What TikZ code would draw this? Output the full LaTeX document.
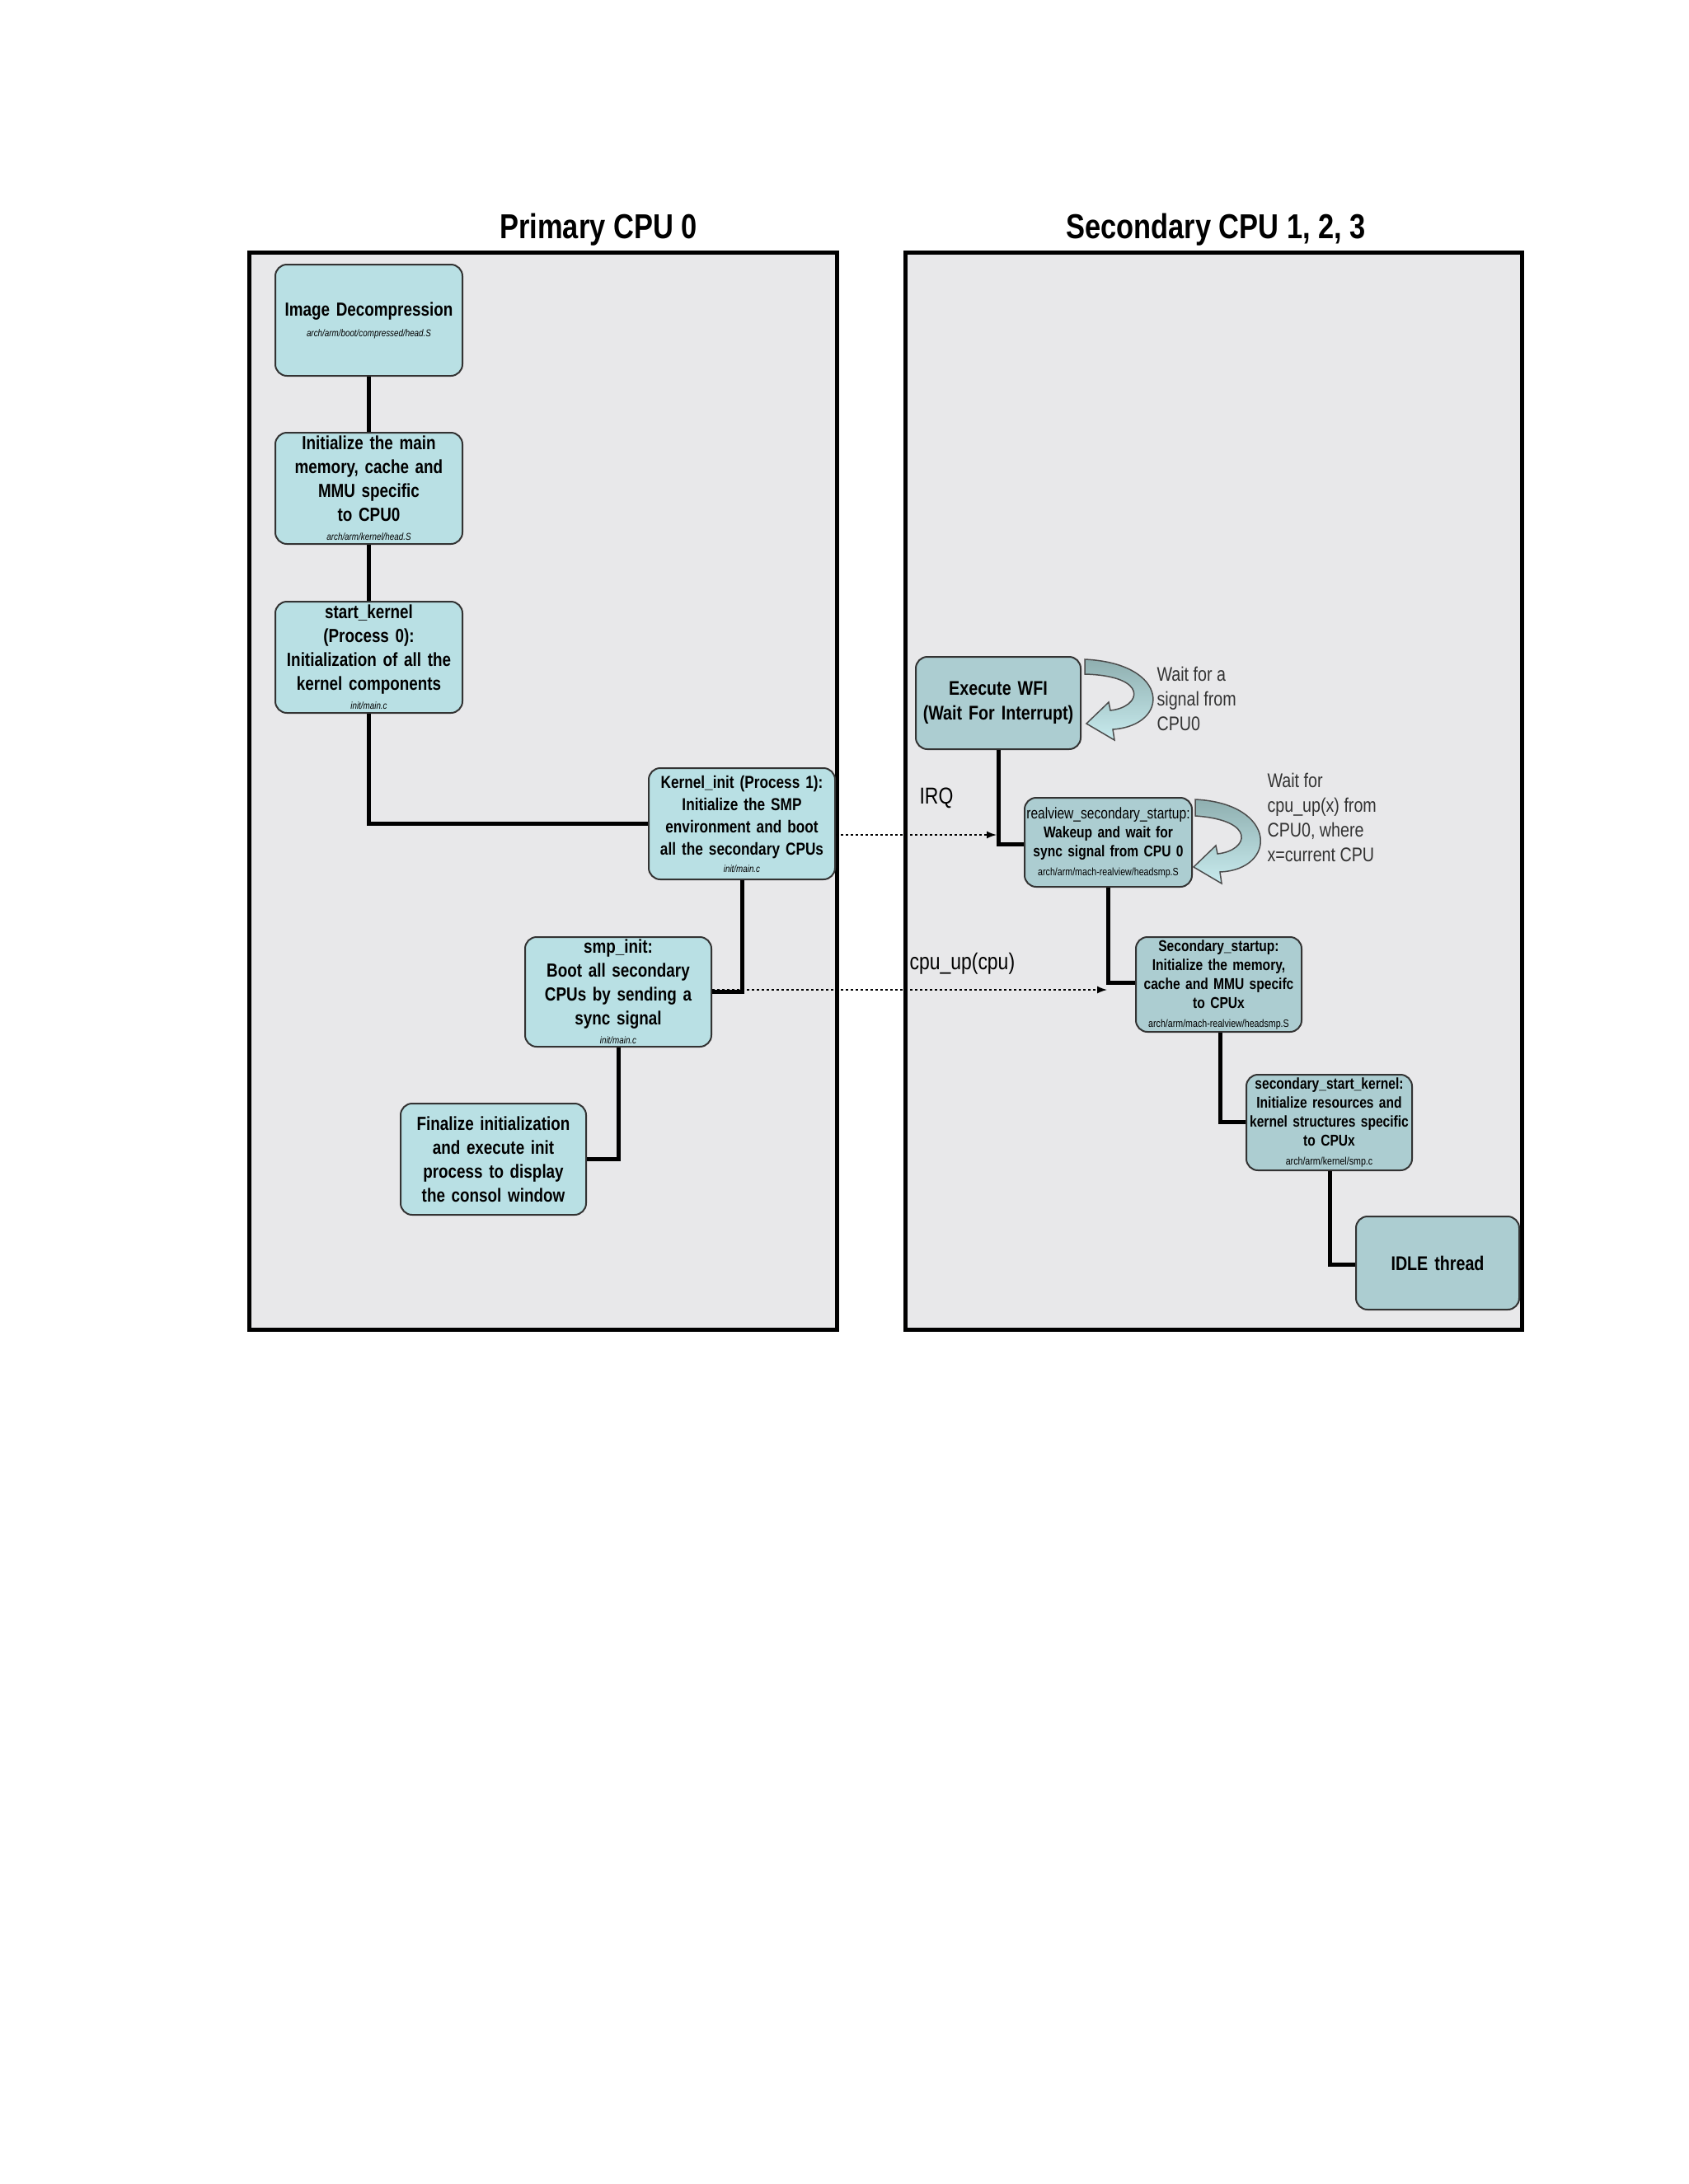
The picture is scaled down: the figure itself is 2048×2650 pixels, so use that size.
\documentclass[tikz,border=0pt]{standalone}
\usepackage{fontspec}
\setmainfont{Liberation Sans}
\newfontfamily\nar[FakeStretch=0.82]{Liberation Sans}
\usetikzlibrary{arrows.meta}
\definecolor{panelc}{HTML}{E8E8EA}
\definecolor{boxl}{HTML}{B9E0E4}
\definecolor{boxr}{HTML}{ACCDD1}
\definecolor{arrtop}{HTML}{8FAFB0}
\definecolor{arrbot}{HTML}{C8EBEE}
\tikzset{
 panel/.style={draw=black,line width=5pt,fill=panelc},
 pbox/.style={draw=black!80,line width=2pt,rounded corners=14pt,fill=boxl,inner sep=0pt,align=center,font=\nar\bfseries\fontsize{23}{29}\selectfont},
 rbox/.style={pbox,fill=boxr,font=\nar\bfseries\fontsize{19}{23}\selectfont},
 link/.style={line width=5pt,black},
 dlink/.style={dashed,line width=1.5pt,-{Latex[length=12pt,width=9pt]}},
 note/.style={anchor=north west,align=left,font=\nar\fontsize{24}{30}\selectfont,text=black!80},
 path/.style={font=\nar\itshape\fontsize{11}{12}\selectfont},
 loop/.style={draw=black!70,line width=1.5pt,top color=arrtop,bottom color=arrbot}
}
\begin{document}
\begin{tikzpicture}[x=1pt,y=-1pt]
\useasboundingbox[fill=white] (0,0) rectangle (2048,2650);
\draw[panel] (302,306) rectangle (1015,1613);
\draw[panel] (1098,306) rectangle (1846,1613);
\node[font=\nar\bfseries\fontsize{42}{48}\selectfont] (t1) at (726,279) {Primary CPU 0};
\node[font=\nar\bfseries\fontsize{42}{48}\selectfont] (t2) at (1475,279) {Secondary CPU 1, 2, 3};
% left boxes
\node[pbox,minimum width=227pt,minimum height=135pt,text width=227pt] (b1) at (447.5,388.5) {Image Decompression\\[-4pt]{\nar\itshape\mdseries\fontsize{12}{13}\selectfont arch/arm/boot/compressed/head.S}};
\node[pbox,minimum width=227pt,minimum height=135pt,text width=227pt] (b2) at (447.5,592.5) {Initialize the main\\memory, cache and\\MMU specific\\to CPU0\\[-6pt]{\nar\itshape\mdseries\fontsize{12}{13}\selectfont arch/arm/kernel/head.S}};
\node[pbox,minimum width=227pt,minimum height=135pt,text width=227pt] (b3) at (447.5,797.5) {start\_kernel\\(Process 0):\\Initialization of all the\\kernel components\\[-6pt]{\nar\itshape\mdseries\fontsize{12}{13}\selectfont init/main.c}};
\node[pbox,minimum width=226pt,minimum height=135pt,text width=226pt,font=\nar\bfseries\fontsize{21}{27}\selectfont] (b4) at (900,999.5) {Kernel\_init (Process 1):\\Initialize the SMP\\environment and boot\\all the secondary CPUs\\[-6pt]{\nar\itshape\mdseries\fontsize{12}{13}\selectfont init/main.c}};
\node[pbox,minimum width=226pt,minimum height=133pt,text width=226pt] (b5) at (750,1203.5) {smp\_init:\\Boot all secondary\\CPUs by sending a\\sync signal\\[-6pt]{\nar\itshape\mdseries\fontsize{12}{13}\selectfont init/main.c}};
\node[pbox,minimum width=225pt,minimum height=135pt,text width=225pt] (b6) at (598.5,1406.5) {Finalize initialization\\and execute init\\process to display\\the consol window};
% right boxes
\node[rbox,minimum width=200pt,minimum height=112pt,text width=200pt,font=\nar\bfseries\fontsize{24}{30}\selectfont] (w1) at (1211,853) {Execute WFI\\(Wait For Interrupt)};
\node[rbox,minimum width=203pt,minimum height=108pt,text width=203pt] (w2) at (1344.5,1022) {{\mdseries realview\_secondary\_startup:}\\Wakeup and wait for\\sync signal from CPU 0\\{\mdseries\fontsize{13}{15}\selectfont arch/arm/mach-realview/headsmp.S}};
\node[rbox,minimum width=201pt,minimum height=115pt,text width=201pt] (w3) at (1478.5,1194.5) {Secondary\_startup:\\Initialize the memory,\\cache and MMU specifc\\to CPUx\\{\mdseries\fontsize{13}{15}\selectfont arch/arm/mach-realview/headsmp.S}};
\node[rbox,minimum width=201pt,minimum height=116pt,text width=201pt] (w4) at (1612.5,1362) {secondary\_start\_kernel:\\Initialize resources and\\kernel structures specific\\to CPUx\\{\mdseries\fontsize{13}{15}\selectfont arch/arm/kernel/smp.c}};
\node[rbox,minimum width=198pt,minimum height=113pt,text width=198pt,font=\nar\bfseries\fontsize{24}{30}\selectfont] (w5) at (1744,1532.5) {IDLE thread};
% left links
\draw[link] (b1.south) -- (b2.north);
\draw[link] (b2.south) -- (b3.north);
\draw[link] (b3.south) |- (b4.west);
\draw[link] (b4.south) |- (b5.east);
\draw[link] (b5.south) |- (b6.east);
% right links
\coordinate (j1) at (1211,1024);
\coordinate (j2) at (1344,1192);
\coordinate (j3) at (1480,1361);
\coordinate (j4) at (1613,1534);
\draw[link] (w1.south) -- (j1) -- (j1 -| w2.west);
\draw[link] (w2.south -| j2) -- (j2) -- (j2 -| w3.west);
\draw[link] (w3.south -| j3) -- (j3) -- (j3 -| w4.west);
\draw[link] (w4.south -| j4) -- (j4) -- (j4 -| w5.west);
% dashed signals
\coordinate (d1) at (1209,1013);
\coordinate (d2) at (1343,1201);
\draw[dlink] (b4.east |- d1) -- (d1);
\draw[dlink] (b5.east |- d2) -- (d2);
\node[font=\nar\fontsize{28}{32}\selectfont,anchor=west] (irq) at (1112,968) {IRQ};
\node[font=\nar\fontsize{28}{32}\selectfont,anchor=west] (cpuup) at (1100,1169) {cpu\_up(cpu)};
% loop arrows
\draw[loop] (1316,800) .. controls (1420,805) and (1420,880) .. (1350,885)
 -- (1352,898) -- (1318,878) -- (1345,852) -- (1347,862)
 .. controls (1385,858) and (1395,820) .. (1316,818) -- cycle;
\draw[loop] (1450,970) .. controls (1550,975) and (1550,1055) .. (1480,1058)
 -- (1482,1072) -- (1448,1052) -- (1475,1026) -- (1477,1036)
 .. controls (1515,1032) and (1525,995) .. (1450,990) -- cycle;
\node[note] (n1) at (1400,806) {Wait for a\\signal from\\CPU0};
\node[note] (n2) at (1534,935) {Wait for\\cpu\_up(x) from\\CPU0, where\\x=current CPU};
\end{tikzpicture}
\end{document}
